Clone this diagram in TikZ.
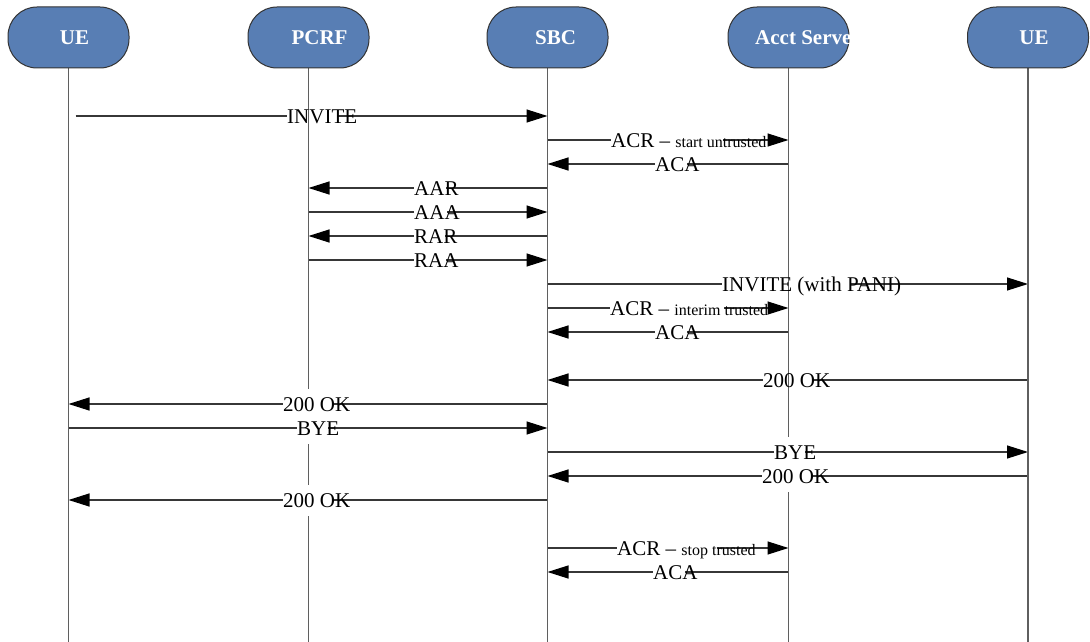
\documentclass[tikz,border=0pt]{standalone}
\usepackage{fontspec}
\setmainfont{Liberation Serif}
\usetikzlibrary{calc,arrows.meta}
\definecolor{hdrblue}{RGB}{88,126,180}
\definecolor{msgline}{RGB}{55,55,55}
\definecolor{lifeline}{RGB}{95,95,95}
\pgfdeclarelayer{low}\pgfdeclarelayer{life}\pgfdeclarelayer{mid}
\pgfsetlayers{low,life,mid,main}
\newcommand\bigsz{\fontsize{21}{24}\selectfont}
\newcommand\smallsz{\fontsize{16}{18}\selectfont}
\newcommand\seqmsg[6]{%
  \node[lbl, anchor=base west] (t#3) at (#4,#3+7) {#5};
  \coordinate (bl#3) at (t#3.west |- 0,#3);
  \coordinate (br#3) at ($(t#3.west)!0.72!(t#3.east)$);
  \begin{pgfonlayer}{low}
    \draw[msg] (#1 |- 0,#3) -- (#2 |- 0,#3);
  \end{pgfonlayer}
  \begin{pgfonlayer}{#6}
    \fill[white] ($(bl#3)+(0,-15)$) rectangle ($(br#3 |- bl#3)+(0,16)$);
  \end{pgfonlayer}
}
\tikzset{
  hdr/.style={rectangle, rounded corners=29pt, minimum width=121pt, minimum height=61pt,
    fill=hdrblue, draw=black!80, line width=1pt, inner sep=0pt},
  htxt/.style={text=white, font=\bigsz\bfseries, inner sep=0pt},
  lbl/.style={font=\bigsz, inner sep=0pt},
  msg/.style={draw=msgline, line width=1.2pt, -{Triangle[length=21pt,width=13pt,color=black,fill=black]}},
  lifel/.style={draw=lifeline, line width=1.4pt}
}
\begin{document}
\begin{tikzpicture}[x=1pt,y=-1pt]
\useasboundingbox (0,0) rectangle (1090,642);
% headers
\node[hdr] (UE) at (68.5,37.5) {};
\node[hdr] (PCRF) at (308.5,37.5) {};
\node[hdr] (SBC) at (547.5,37.5) {};
\node[hdr] (ACCT) at (788.5,37.5) {};
\node[hdr] (UE2) at (1028,37.5) {};
\node[htxt] (UEt) at (74.5,37.5) {UE};
\node[htxt] (PCRFt) at (319.5,37.5) {PCRF};
\node[htxt] (SBCt) at (555.5,37.5) {SBC};
\begin{scope}
  \clip[rounded corners=29pt] (ACCT.south west) rectangle (ACCT.north east);
  \node[htxt, anchor=west] (ACCTt) at (755,37.5) {Acct Serve};
\end{scope}
\node[htxt] (UE2t) at (1034,37.5) {UE};
% lifelines
\coordinate (UEe) at (UE |- 0,642);
\coordinate (PCRFe) at (PCRF |- 0,642);
\coordinate (SBCe) at (SBC |- 0,642);
\coordinate (ACCTe) at (ACCT |- 0,642);
\coordinate (UE2e) at (UE2 |- 0,642);
\begin{pgfonlayer}{life}
\draw[lifel] (UE.south) -- (UEe);
\draw[lifel] (PCRF.south) -- (PCRFe);
\draw[lifel] (SBC.south) -- (SBCe);
\draw[lifel] (ACCT.south) -- (ACCTe);
\draw[lifel] (UE2.south) -- (UE2e);
\end{pgfonlayer}
\coordinate (UEs) at ($(UE)+(7,0)$);
% messages
\seqmsg{UEs}{SBC}{116}{287}{INVITE}{low}
\seqmsg{SBC}{ACCT}{140}{611}{ACR -- {\smallsz start untrusted}}{low}
\seqmsg{ACCT}{SBC}{164}{655}{ACA}{low}
\seqmsg{SBC}{PCRF}{188}{414}{AAR}{low}
\seqmsg{PCRF}{SBC}{212}{414}{AAA}{low}
\seqmsg{SBC}{PCRF}{236}{414}{RAR}{low}
\seqmsg{PCRF}{SBC}{260}{414}{RAA}{low}
\seqmsg{SBC}{UE2}{284}{722}{INVITE (with PANI)}{low}
\seqmsg{SBC}{ACCT}{308}{610}{ACR -- {\smallsz interim trusted}}{low}
\seqmsg{ACCT}{SBC}{332}{655}{ACA}{low}
\seqmsg{UE2}{SBC}{380}{763}{200 OK}{low}
\seqmsg{SBC}{UE}{404}{283}{200 OK}{mid}
\seqmsg{UE}{SBC}{428}{297}{BYE}{mid}
\seqmsg{SBC}{UE2}{452}{774}{BYE}{mid}
\seqmsg{UE2}{SBC}{476}{762}{200 OK}{mid}
\seqmsg{SBC}{UE}{500}{283}{200 OK}{mid}
\seqmsg{SBC}{ACCT}{548}{617}{ACR -- {\smallsz stop trusted}}{low}
\seqmsg{ACCT}{SBC}{572}{653}{ACA}{low}
\end{tikzpicture}
\end{document}
